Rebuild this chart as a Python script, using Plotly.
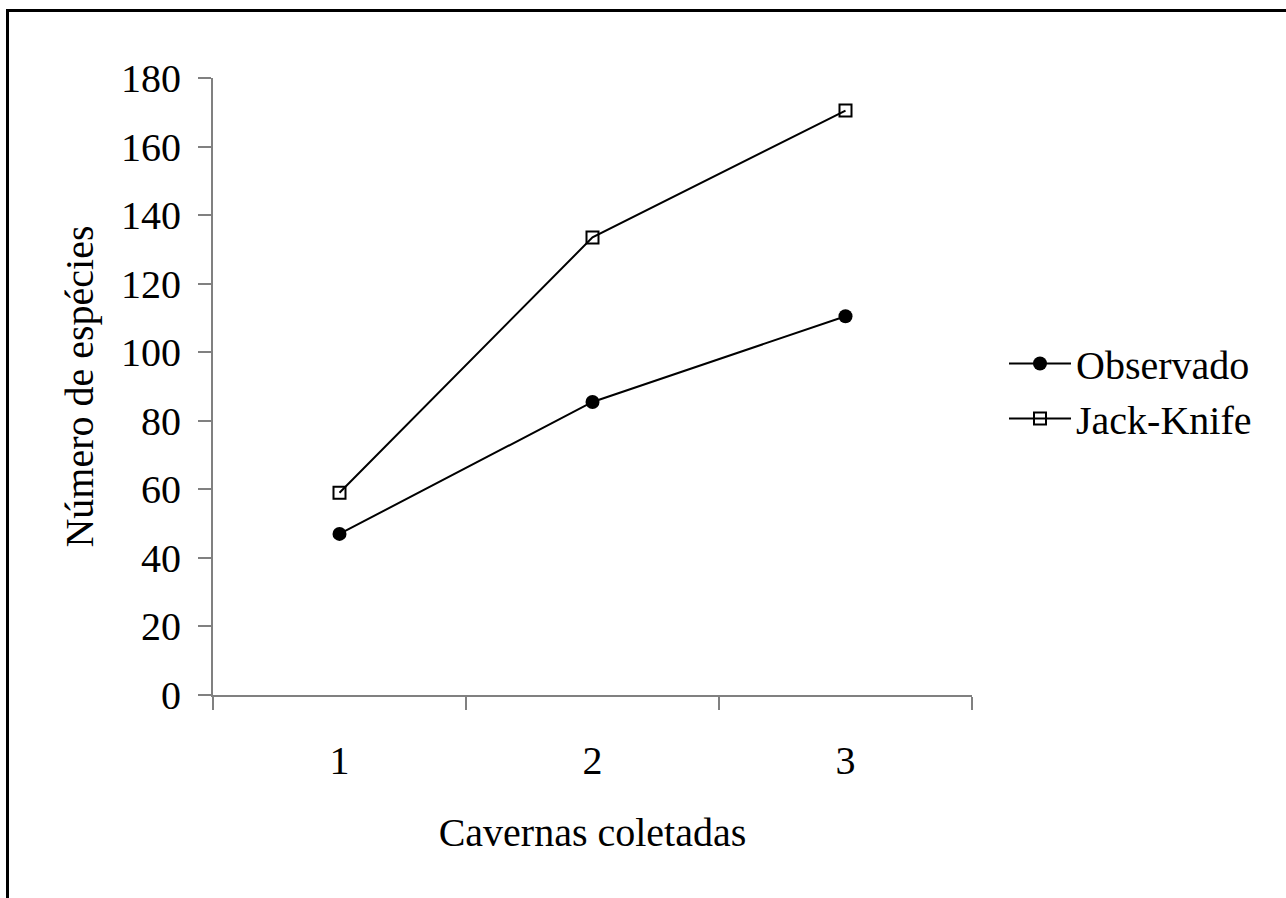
import plotly.graph_objects as go

categories = [1, 2, 3]
observado = [47, 85.5, 110.5]
jackknife = [59, 133.5, 170.5]
y_ticks = [0, 20, 40, 60, 80, 100, 120, 140, 160, 180]

FONT = "Liberation Serif, Times New Roman, serif"
FS = 40
W, H = 1286, 898
L, R, T, B = 213, 314, 78, 203
pw, ph = W - L - R, H - T - B

fig = go.Figure()
fig.add_trace(go.Scatter(
    x=categories, y=observado, name="Observado", mode="lines+markers",
    line=dict(color="black", width=2),
    marker=dict(symbol="circle", size=14, color="black"),
))
fig.add_trace(go.Scatter(
    x=categories, y=jackknife, name="Jack-Knife", mode="lines+markers",
    line=dict(color="black", width=2),
    marker=dict(symbol="square-open", size=12, color="black", line=dict(width=2, color="black")),
))

def px_to_paper_x(px):
    return (px - L) / pw

def px_to_paper_y(py):
    return (H - B - py) / ph

fig.add_shape(type="rect", xref="paper", yref="paper",
              x0=px_to_paper_x(7.5), x1=px_to_paper_x(1320),
              y0=px_to_paper_y(930), y1=px_to_paper_y(10.5),
              line=dict(color="black", width=3), fillcolor="rgba(0,0,0,0)", layer="above")

fig.update_layout(
    width=W, height=H,
    margin=dict(l=L, r=R, t=T, b=B),
    paper_bgcolor="white", plot_bgcolor="white",
    font=dict(family=FONT, size=FS, color="black"),
    showlegend=True,
    legend=dict(x=px_to_paper_x(1004), xanchor="left", y=px_to_paper_y(391), yanchor="middle",
                font=dict(family=FONT, size=FS, color="black"),
                itemwidth=62, tracegroupgap=0, bgcolor="rgba(0,0,0,0)"),
    xaxis=dict(
        range=[0.5, 3.5], tickvals=categories, ticktext=[str(c) for c in categories],
        ticks="", showgrid=False, zeroline=False,
        showline=True, linecolor="#808080", linewidth=2,
        ticklabelstandoff=29,
        tickfont=dict(family=FONT, size=FS, color="black"),
        minor=dict(ticks="outside", ticklen=13, tickwidth=1.5, tickcolor="#808080",
                   tick0=0.5, dtick=1, showgrid=False),
        title=dict(text="Cavernas coletadas", standoff=36,
                   font=dict(family=FONT, size=FS, color="black")),
    ),
    yaxis=dict(
        range=[0, 180], tickvals=y_ticks, ticks="outside", ticklen=13, tickwidth=1.5,
        tickcolor="#808080", showgrid=False, zeroline=False,
        showline=True, linecolor="#808080", linewidth=2,
        ticklabelstandoff=9,
        tickfont=dict(family=FONT, size=FS, color="black"),
        title=dict(text="Número de espécies", standoff=15,
                   font=dict(family=FONT, size=FS, color="black")),
    ),
)

fig.write_html("out.html", config={"displayModeBar": False},
               post_script="document.body.style.margin='0';")
